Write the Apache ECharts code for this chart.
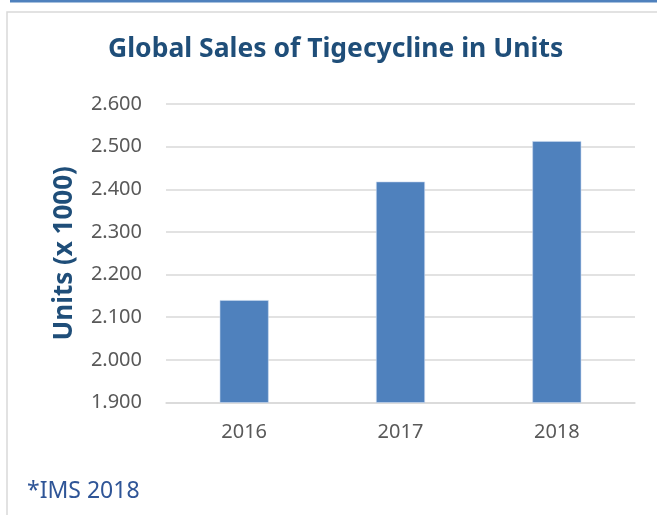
<!DOCTYPE html>
<html>
<head>
<meta charset="utf-8">
<script src="https://cdn.jsdelivr.net/npm/echarts@6/dist/echarts.min.js"></script>
<style>html,body{margin:0;padding:0;background:#fff}#c{width:657px;height:515px}</style>
</head>
<body>
<div id="c"></div>
<script>
const categories = ['2016', '2017', '2018'];
const unitsThousands = [2.140, 2.418, 2.513];
const yMin = 1.9, yMax = 2.6, yStep = 0.1;
const titleText = 'Global Sales of Tigecycline in Units';
const yAxisTitle = 'Units (x 1000)';
const footnote = '*IMS 2018';

const chart = echarts.init(document.getElementById('c'), null, {renderer: 'canvas'});
chart.setOption({
  animation: false,
  backgroundColor: '#fff',
  title: {
    text: titleText,
    left: 103,
    top: 31,
    textStyle: {fontFamily: 'Noto Sans', fontWeight: 'bold', fontSize: 26.5, color: '#1F4E79'}
  },
  graphic: [
    {type: 'rect', shape: {x: 10, y: 0, width: 660, height: 2.5}, style: {fill: '#4F81BD'}},
    {type: 'rect', shape: {x: 7, y: 12, width: 700, height: 600}, style: {fill: 'none', stroke: '#D9D9D9', lineWidth: 1.5}},
    {type: 'text', left: 27, top: 480, style: {text: footnote, fill: '#2F5597', font: '23px "Noto Sans"'}}
  ],
  grid: {left: 166, right: 22, top: 104, bottom: 112.5},
  xAxis: {
    type: 'category',
    data: categories,
    axisLine: {show: true, lineStyle: {color: '#D9D9D9', width: 1.5}},
    axisTick: {show: false},
    axisLabel: {color: '#595959', fontFamily: 'Noto Sans', fontSize: 20, margin: 20}
  },
  yAxis: {
    type: 'value',
    min: yMin, max: yMax, interval: yStep,
    name: yAxisTitle,
    nameLocation: 'middle',
    nameGap: 88,
    nameTextStyle: {color: '#1F4E79', fontFamily: 'Noto Sans', fontWeight: 'bold', fontSize: 26},
    axisLine: {show: false},
    axisTick: {show: false},
    axisLabel: {
      color: '#595959', fontFamily: 'Noto Sans', fontSize: 20, margin: 24,
      formatter: v => v.toFixed(3)
    },
    splitLine: {lineStyle: {color: '#D9D9D9', width: 1.5}}
  },
  series: [{
    type: 'bar',
    data: unitsThousands,
    barWidth: '31.3%',
    itemStyle: {color: '#4F81BD', borderColor: '#C9D9EE', borderWidth: 0.6}
  }]
});
</script>
</body>
</html>
